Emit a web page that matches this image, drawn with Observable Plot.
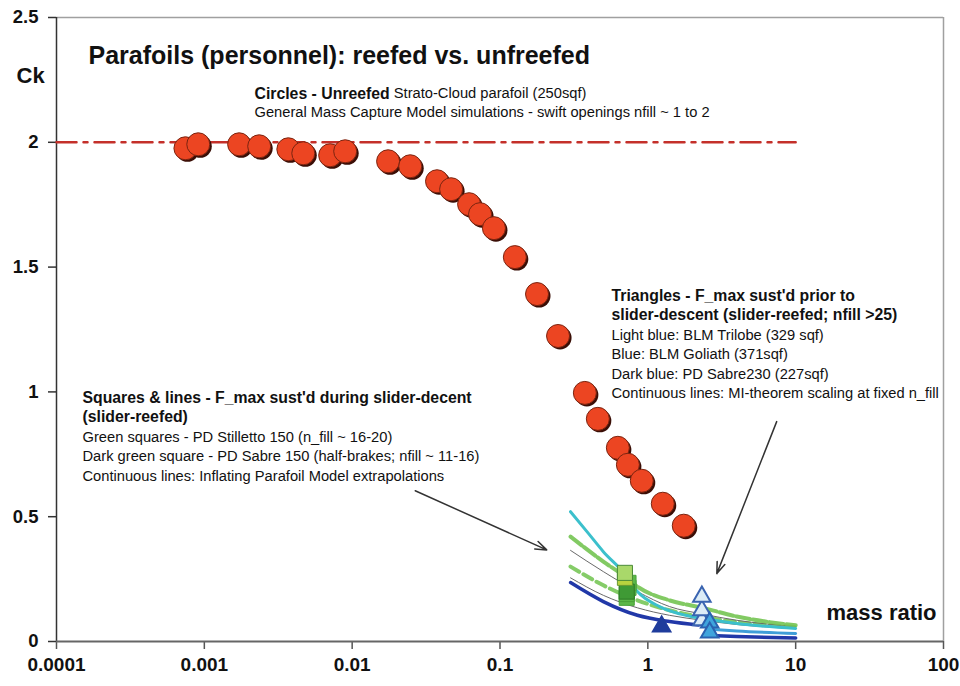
<!DOCTYPE html>
<html>
<head>
<meta charset="utf-8">
<script src="https://cdn.jsdelivr.net/npm/d3@7"></script>
<script src="https://cdn.jsdelivr.net/npm/@observablehq/plot@0.6"></script>
<style>
  html, body { margin: 0; padding: 0; background: #fff; }
  #chart svg { display: block; }
</style>
</head>
<body>
<div id="chart"></div>
<script>
// ---------- Data ----------
const xTickValues = [0.0001, 0.001, 0.01, 0.1, 1, 10, 100];
const xTickLabels = ["0.0001", "0.001", "0.01", "0.1", "1", "10", "100"];
const yTickValues = [0, 0.5, 1, 1.5, 2, 2.5];
const yTickLabels = ["0", "0.5", "1", "1.5", "2", "2.5"];

// Unreefed Strato-Cloud circles (mass ratio, Ck)
const circleX = [0.000745, 0.00091, 0.00172, 0.00235, 0.0037, 0.00467, 0.0071, 0.00897,
  0.0175, 0.0247, 0.0375, 0.0467, 0.0618, 0.0733, 0.091, 0.126, 0.178, 0.247,
  0.375, 0.459, 0.627, 0.733, 0.91, 1.262, 1.75];
const circleY = [1.976, 1.992, 1.992, 1.984, 1.972, 1.956, 1.948, 1.964,
  1.924, 1.904, 1.844, 1.812, 1.752, 1.712, 1.656, 1.54, 1.392, 1.224,
  0.996, 0.892, 0.776, 0.708, 0.644, 0.552, 0.464];

// Reference Ck = 2 line
const refX = [0.0001, 10];
const refY = [2, 2];

// Model lines
const cyanLine = [[0.3,0.52],[0.4,0.43],[0.5,0.36],[0.7,0.27],[0.85,0.2],[1.2,0.14],[1.8,0.105],[2.35,0.092],[4,0.072],[10,0.052]];
const greenUpper = [[0.3,0.42],[0.5,0.32],[0.7,0.26],[0.85,0.22],[1.4,0.165],[2.35,0.135],[4,0.1],[10,0.065]];
const grayUpper = [[0.3,0.365],[0.5,0.28],[0.85,0.2],[1.4,0.14],[2.35,0.11],[4,0.085],[10,0.06]];
const greenLower = [[0.3,0.3],[0.5,0.225],[0.85,0.165],[1.4,0.125],[2.35,0.098],[4,0.078],[10,0.058]];
const grayLower = [[0.3,0.255],[0.5,0.185],[0.85,0.135],[1.4,0.105],[2.35,0.085],[4,0.068],[10,0.052]];
const darkBlueLine = [[0.3,0.236],[0.5,0.16],[0.85,0.105],[1.4,0.08],[2.2,0.066]];
const midBlueLine = [[2.5,0.05],[4,0.042],[10,0.032]];
const lowBlueLine = [[2.4,0.025],[4,0.02],[10,0.014]];

// Squares (PD Stilletto 150 / PD Sabre 150)
const squareX = [0.72, 0.72, 0.74, 0.74, 0.72, 0.7, 0.7];
const squareY = [0.175, 0.19, 0.215, 0.235, 0.2, 0.255, 0.275];
const squareKind = ["green", "green", "green", "green", "dark", "yellow", "light"];

// Triangles
const triX = [1.24, 2.32, 2.32, 2.32, 2.62, 2.62];
const triY = [0.06, 0.085, 0.125, 0.18, 0.076, 0.036];
const triKind = ["dark", "light", "light", "light", "blue", "blue"];

// Arrows
const arrows = [
  {x1: 0.0267, y1: 0.604, x2: 0.207, y2: 0.367},
  {x1: 7.44, y1: 0.881, x2: 2.93, y2: 0.272}
];

// Texts
const title = "Parafoils (personnel): reefed vs. unfreefed";
const yLabel = "Ck";
const xLabel = "mass ratio";
const circlesBold = "Circles - Unreefed";
const circlesRest = " Strato-Cloud parafoil (250sqf)";
const circlesLine2 = "General Mass Capture Model simulations - swift openings nfill ~ 1 to 2";
const triBold = ["Triangles - F_max sust'd prior to", "slider-descent (slider-reefed; nfill >25)"];
const triLines = ["Light blue: BLM Trilobe (329 sqf)", "Blue: BLM Goliath (371sqf)", "Dark blue: PD Sabre230 (227sqf)", "Continuous lines: MI-theorem scaling at fixed n_fill"];
const sqBold = ["Squares & lines - F_max sust'd during slider-decent", "(slider-reefed)"];
const sqLines = ["Green squares - PD Stilletto 150 (n_fill ~ 16-20)", "Dark green square - PD Sabre 150 (half-brakes; nfill ~ 11-16)", "Continuous lines: Inflating Parafoil Model extrapolations"];

// ---------- Build tables ----------
const circles = circleX.map((x, i) => ({x, y: circleY[i]}));
const refLine = refX.map((x, i) => ({x, y: refY[i]}));
const toPts = a => a.map(([x, y]) => ({x, y}));
const squares = squareX.map((x, i) => ({x, y: squareY[i], k: squareKind[i]}));
const tris = triX.map((x, i) => ({x, y: triY[i], k: triKind[i]}));
const xLabelOf = d => xTickLabels[xTickValues.findIndex(v => Math.abs(Math.log10(v) - Math.log10(d)) < 1e-6)];
const yLabelOf = d => yTickLabels[yTickValues.findIndex(v => Math.abs(v - d) < 1e-9)];

const FONT = "Arial, 'Liberation Sans', Helvetica, sans-serif";
const BOLD = 15.8, NORM = 14.7;
const canvas = document.createElement("canvas");
const ctx = canvas.getContext("2d");
ctx.font = `bold ${BOLD}px ${FONT}`;
const boldW = ctx.measureText(circlesBold).width;

const sqFill = {green: "#5cb848", dark: "#3f9a35", yellow: "#b9d33f", light: "#a9d86a"};
const sqStroke = {green: "#4aa23a", dark: "#2f7a28", yellow: "#6a9a30", light: "#4a8a38"};
const triFill = {dark: "#1f3c9c", light: "#dcecf6", blue: "#3fa4dc"};
const triStroke = {dark: "#1f3c9c", light: "#3a64b0", blue: "#2a62b0"};

const lineH = 19.5;
const textOpts = {frameAnchor: "top-left", textAnchor: "start", lineAnchor: "middle", fill: "#111", fontFamily: FONT};
const blockOpts = {...textOpts, lineAnchor: "top"};
const sqTop = 381; // first line centre, relative to frame top

const chart = Plot.plot({
  width: 960,
  height: 686,
  marginLeft: 56,
  marginRight: 17,
  marginTop: 17,
  marginBottom: 45,
  style: {fontFamily: FONT, background: "#fff", color: "#111"},
  x: {type: "log", domain: [0.0001, 100], label: null},
  y: {domain: [0, 2.5], label: null},
  marks: [
    // frame lines
    Plot.ruleY([2.5], {stroke: "#a0a0a0", strokeWidth: 1.5}),
    Plot.ruleX([100], {stroke: "#a0a0a0", strokeWidth: 1.5}),
    Plot.axisX({ticks: xTickValues, tickFormat: xLabelOf, tickSize: 8, tickPadding: 8,
      fontSize: 19, fontWeight: "bold", stroke: "#555", strokeWidth: 1.5, label: null}),
    Plot.axisY({ticks: yTickValues, tickFormat: yLabelOf, tickSize: 8, tickPadding: 10,
      fontSize: 18.5, fontWeight: "bold", stroke: "#333", strokeWidth: 1.5, label: null}),
    Plot.ruleX([0.0001], {stroke: "#333", strokeWidth: 1.5}),
    Plot.ruleY([0], {stroke: "#666", strokeWidth: 2}),

    // reference line at Ck = 2
    Plot.line(refLine, {x: "x", y: "y", stroke: "#c4302a", strokeWidth: 2.5, strokeDasharray: "20,7,4,7"}),

    // model lines
    Plot.line(toPts(grayLower), {x: "x", y: "y", stroke: "#6a6a6a", strokeWidth: 1, curve: "monotone-x"}),
    Plot.line(toPts(greenLower), {x: "x", y: "y", stroke: "#78c658", strokeWidth: 4, strokeDasharray: "10,5", strokeOpacity: 0.9, curve: "monotone-x"}),
    Plot.line(toPts(grayUpper), {x: "x", y: "y", stroke: "#6a6a6a", strokeWidth: 1, curve: "monotone-x"}),
    Plot.line(toPts(greenUpper), {x: "x", y: "y", stroke: "#74c452", strokeWidth: 4, strokeDasharray: "14,3", strokeOpacity: 0.9, curve: "monotone-x"}),
    Plot.line(toPts(lowBlueLine), {x: "x", y: "y", stroke: "#2138a8", strokeWidth: 3.5, curve: "monotone-x"}),
    Plot.line(toPts(midBlueLine), {x: "x", y: "y", stroke: "#3f9ed8", strokeWidth: 3, curve: "monotone-x"}),
    Plot.line(toPts(darkBlueLine), {x: "x", y: "y", stroke: "#2138a8", strokeWidth: 3.5, curve: "monotone-x"}),
    Plot.line(toPts(cyanLine), {x: "x", y: "y", stroke: "#3cc0cc", strokeWidth: 3, curve: "monotone-x"}),

    // squares
    Plot.dot(squares, {x: "x", y: "y", symbol: "square", r: 8.5, fill: d => sqFill[d.k], stroke: d => sqStroke[d.k], strokeWidth: 1}),

    // triangles
    Plot.dot(tris, {x: "x", y: "y", symbol: "triangle", r: 6.5, fill: d => triFill[d.k], stroke: d => triStroke[d.k], strokeWidth: 2}),

    // circles with shadow
    Plot.dot(circles, {x: "x", y: "y", r: 11.5, fill: "#3a0e06", dx: 2, dy: 2}),
    Plot.dot(circles, {x: "x", y: "y", r: 11.5, fill: "#ec4522", stroke: "#7a2410", strokeWidth: 1}),

    // arrows
    Plot.arrow(arrows, {x1: "x1", y1: "y1", x2: "x2", y2: "y2", stroke: "#333", strokeWidth: 1.5, headLength: 12, headAngle: 40}),

    // texts
    Plot.text([title], {...textOpts, dx: 32, dy: 38, fontSize: 25, fontWeight: "bold"}),
    Plot.text([yLabel], {...textOpts, dx: -40, dy: 58, fontSize: 22, fontWeight: "bold"}),
    Plot.text([xLabel], {...textOpts, dx: 770, dy: 595, fontSize: 22, fontWeight: "bold"}),
    Plot.text([circlesBold], {...textOpts, dx: 198, dy: 76, fontSize: BOLD, fontWeight: "bold"}),
    Plot.text([circlesRest], {...textOpts, dx: 198 + boldW, dy: 76, fontSize: NORM}),
    Plot.text([circlesLine2], {...textOpts, dx: 198, dy: 95, fontSize: NORM}),
    Plot.text([triBold.join("\n")], {...blockOpts, dx: 555, dy: 279 - lineH / 2, fontSize: BOLD, fontWeight: "bold", lineHeight: lineH / BOLD}),
    Plot.text([triLines.join("\n")], {...blockOpts, dx: 555, dy: 279 + 1.5 * lineH, fontSize: NORM, lineHeight: lineH / NORM}),
    Plot.text([sqBold.join("\n")], {...blockOpts, dx: 26, dy: sqTop - lineH / 2, fontSize: BOLD, fontWeight: "bold", lineHeight: lineH / BOLD}),
    Plot.text([sqLines.join("\n")], {...blockOpts, dx: 26, dy: sqTop + 1.5 * lineH, fontSize: NORM, lineHeight: lineH / NORM})
  ]
});
document.getElementById("chart").appendChild(chart);
</script>
</body>
</html>
